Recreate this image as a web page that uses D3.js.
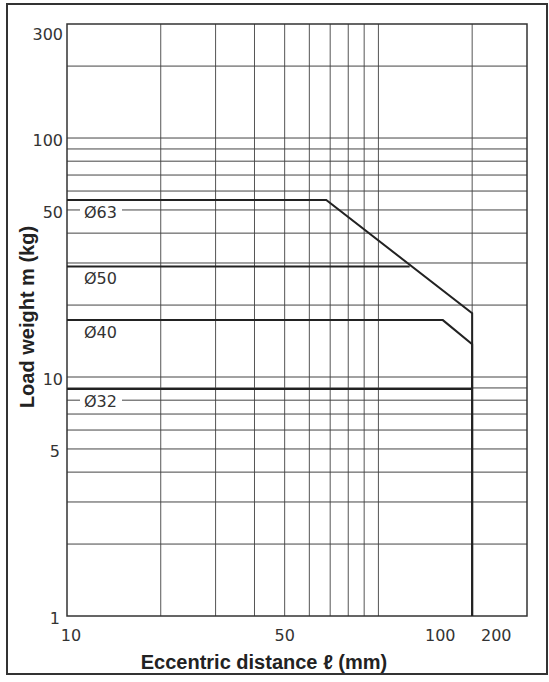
<!DOCTYPE html>
<html>
<head>
<meta charset="utf-8">
<script src="https://cdn.jsdelivr.net/npm/d3@7"></script>
<style>
  body { margin: 0; background: #fff; }
  svg { display: block; }
</style>
</head>
<body>
<script>
// log-log chart: load weight vs eccentric distance

// grid lines
var xGrid = [20, 30, 40, 50, 60, 70, 80, 90, 100, 200];
var yGrid = [2, 3, 4, 5, 6, 7, 8, 9, 10, 20, 30, 40, 50, 60, 70, 80, 90, 100, 200];

// tick labels (x labels 100 / 200 sit off their grid lines in the original)
var xTickLabels = ["10", "50", "100", "200"];
var xTickAt = [10, 50, 158, 239];
var yTickLabels = [1, 5, 10, 50, 100, 300];

// bore sizes
var boreNames = ["Ø63", "Ø50", "Ø40", "Ø32"];
var dia63X = [10, 68, 200, 200];
var dia63Y = [55, 55, 18.5, 1];
var dia50X = [10, 126];
var dia50Y = [29, 29];
var dia40X = [10, 161, 200, 200];
var dia40Y = [17.3, 17.3, 13.7, 1];
var dia32X = [10, 200];
var dia32Y = [8.9, 8.9];

var W = 549, H = 682;
var plotL = 67, plotR = 527, plotT = 24, plotB = 616;

var svg = d3.select("body").append("svg")
  .attr("width", W)
  .attr("height", H);

// outer frame
svg.append("rect")
  .attr("x", 7).attr("y", 4)
  .attr("width", 540).attr("height", 670)
  .style("fill", "none")
  .style("stroke", "#333")
  .style("stroke-width", 2);

var x = d3.scaleLog().domain([10, 300]).range([plotL, plotR]);
var y = d3.scaleLog().domain([1, 300]).range([plotB, plotT]);

var grid = svg.append("g");

grid.selectAll(".vg")
  .data(xGrid)
  .enter()
  .append("line")
  .attr("x1", function(d){ return x(d); })
  .attr("x2", function(d){ return x(d); })
  .attr("y1", plotT).attr("y2", plotB)
  .style("stroke", "#555")
  .style("stroke-width", 1);

grid.selectAll(".hg")
  .data(yGrid)
  .enter()
  .append("line")
  .attr("x1", plotL).attr("x2", plotR)
  .attr("y1", function(d){ return y(d); })
  .attr("y2", function(d){ return y(d); })
  .style("stroke", "#444")
  .style("stroke-width", 1);

// plot box
svg.append("rect")
  .attr("x", plotL).attr("y", plotT)
  .attr("width", plotR - plotL).attr("height", plotB - plotT)
  .style("fill", "none")
  .style("stroke", "#333")
  .style("stroke-width", 1.5);

// bore curves
var curves = [
  d3.zip(dia63X, dia63Y),
  d3.zip(dia50X, dia50Y),
  d3.zip(dia40X, dia40Y),
  d3.zip(dia32X, dia32Y)
];

var line = d3.line()
  .x(function(d){ return x(d[0]); })
  .y(function(d){ return y(d[1]); });

svg.selectAll(".curve")
  .data(curves)
  .enter()
  .append("path")
  .attr("d", line)
  .style("fill", "none")
  .style("stroke", "#222")
  .style("stroke-width", 2);

// bore labels, just under each line, on a white patch
var labels = svg.selectAll(".bore")
  .data(boreNames)
  .enter()
  .append("g")
  .attr("transform", function(d, i){
    return "translate(" + 84 + "," + (y(curves[i][0][1]) + 12) + ")";
  });

labels.append("rect")
  .attr("x", -4).attr("y", -9)
  .attr("width", 42).attr("height", 17)
  .style("fill", "#fff");

labels.append("text")
  .attr("dy", "0.36em")
  .style("font-family", "'DejaVu Sans', sans-serif")
  .style("font-size", "16px")
  .style("fill", "#333")
  .text(function(d){ return d; });

// y tick labels
svg.selectAll(".ytl")
  .data(yTickLabels)
  .enter()
  .append("text")
  .attr("x", function(d){ return d < 10 ? 60 : 63; })
  .attr("y", function(d){ return Math.max(y(d) + 2, plotT + 10); })
  .attr("dy", "0.36em")
  .attr("text-anchor", "end")
  .style("font-family", "'DejaVu Sans', sans-serif")
  .style("font-size", "16px")
  .style("fill", "#333")
  .text(function(d){ return d; });

// x tick labels
svg.selectAll(".xtl")
  .data(xTickLabels)
  .enter()
  .append("text")
  .attr("x", function(d, i){ return x(xTickAt[i]) + (i === 0 ? 4 : 0); })
  .attr("y", 641)
  .attr("text-anchor", "middle")
  .style("font-family", "'DejaVu Sans', sans-serif")
  .style("font-size", "16px")
  .style("fill", "#333")
  .text(function(d){ return d; });

// axis titles
svg.append("text")
  .attr("x", 264).attr("y", 669)
  .attr("text-anchor", "middle")
  .style("font-family", "'Liberation Sans', Arial, sans-serif")
  .style("font-weight", "bold")
  .style("font-size", "20px")
  .style("fill", "#222")
  .text("Eccentric distance ℓ (mm)");

svg.append("text")
  .attr("transform", "translate(34,317) rotate(-90)")
  .attr("text-anchor", "middle")
  .style("font-family", "'Liberation Sans', Arial, sans-serif")
  .style("font-weight", "bold")
  .style("font-size", "20px")
  .style("fill", "#222")
  .text("Load weight m (kg)");
</script>
</body>
</html>
